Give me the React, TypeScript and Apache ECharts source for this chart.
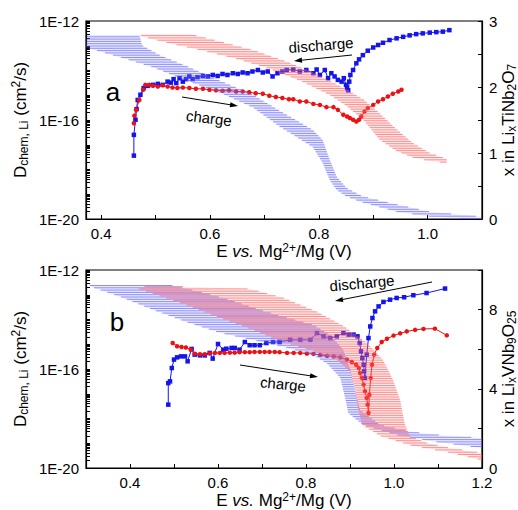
import React, { useEffect, useRef } from 'react';
import * as echarts from 'echarts';

// ---------- Panel a (Li_xTiNb2O7) ----------
// [E (V), log10 D]
const aDischarge: number[][] = [
  [0.460,-17.44],[0.460,-16.60],[0.463,-15.99],[0.465,-15.56],[0.467,-15.19],[0.472,-14.98],[0.478,-14.71],[0.486,-14.62],
  [0.495,-14.58],[0.504,-14.54],[0.513,-14.58],[0.522,-14.45],[0.528,-14.49],[0.533,-14.35],[0.538,-14.51],[0.544,-14.31],
  [0.550,-14.45],[0.556,-14.35],[0.562,-14.24],[0.568,-14.35],[0.577,-14.27],[0.587,-14.22],[0.596,-14.24],[0.605,-14.18],
  [0.614,-14.22],[0.623,-14.14],[0.632,-14.18],[0.642,-14.11],[0.651,-14.14],[0.660,-14.08],[0.669,-14.11],[0.678,-14.04],
  [0.688,-13.98],[0.697,-14.08],[0.706,-14.04],[0.715,-14.24],[0.724,-14.11],[0.733,-14.04],[0.741,-13.98],[0.753,-13.96],
  [0.765,-14.04],[0.777,-13.98],[0.790,-14.11],[0.796,-13.96],[0.802,-14.18],[0.811,-13.98],[0.817,-14.31],[0.823,-14.11],
  [0.829,-14.24],[0.835,-14.38],[0.842,-14.45],[0.846,-14.31],[0.850,-14.58],[0.852,-14.71],[0.854,-14.80],[0.856,-14.45],
  [0.858,-14.18],[0.863,-13.98],[0.869,-13.71],[0.874,-13.55],[0.881,-13.38],[0.890,-13.20],[0.900,-13.07],[0.909,-12.97],
  [0.918,-12.88],[0.930,-12.77],[0.943,-12.70],[0.955,-12.64],[0.967,-12.58],[0.979,-12.53],[0.991,-12.50],[1.004,-12.47],
  [1.016,-12.45],[1.028,-12.43],[1.040,-12.37]
];
const aCharge: number[][] = [
  [0.460,-16.13],[0.461,-15.83],[0.464,-15.59],[0.470,-15.19],[0.477,-14.78],[0.481,-14.58],[0.488,-14.58],[0.495,-14.62],
  [0.504,-14.65],[0.513,-14.60],[0.522,-14.65],[0.531,-14.69],[0.540,-14.71],[0.550,-14.69],[0.562,-14.71],[0.574,-14.74],
  [0.587,-14.74],[0.599,-14.78],[0.611,-14.80],[0.623,-14.82],[0.635,-14.80],[0.648,-14.85],[0.660,-14.85],[0.672,-14.88],
  [0.684,-14.92],[0.697,-14.94],[0.709,-15.02],[0.721,-15.07],[0.733,-15.11],[0.745,-15.16],[0.753,-15.16],[0.765,-15.25],
  [0.777,-15.25],[0.790,-15.35],[0.802,-15.39],[0.814,-15.48],[0.827,-15.48],[0.835,-15.59],[0.845,-15.79],[0.852,-15.86],
  [0.857,-15.92],[0.863,-15.99],[0.869,-16.06],[0.874,-15.99],[0.878,-15.86],[0.884,-15.66],[0.890,-15.52],[0.900,-15.39],
  [0.909,-15.25],[0.918,-15.16],[0.927,-15.05],[0.936,-14.94],[0.946,-14.85],[0.952,-14.78]
];
// bands: [E, x in LixTiNb2O7]
const aBlueUpper: number[][] = [
  [0.374,2.79],[0.470,2.79],[0.475,2.63],[0.508,2.48],[0.556,2.32],[0.617,2.10],[0.677,1.89],[0.728,1.64],[0.789,1.35],
  [0.807,1.20],[0.820,0.90],[0.833,0.64],[0.851,0.47],[0.881,0.34],[0.943,0.22],[1.004,0.11],[1.064,0.06],[1.099,0.035]
];
const aBlueLower: number[][] = [
  [0.372,2.60],[0.435,2.45],[0.495,2.30],[0.556,2.10],[0.617,1.92],[0.679,1.69],[0.728,1.40],[0.789,1.09],[0.807,0.85],
  [0.820,0.59],[0.833,0.44],[0.851,0.34],[0.881,0.25],[0.943,0.11],[1.004,0.04],[1.064,0.005],[1.099,0.0]
];
const aRedUpper: number[][] = [
  [0.473,2.80],[0.565,2.80],[0.618,2.69],[0.679,2.56],[0.739,2.39],[0.789,2.22],[0.850,1.97],[0.884,1.80],[0.912,1.60],
  [0.943,1.36],[0.973,1.15],[1.004,1.00],[1.035,0.91]
];
const aRedLower: number[][] = [
  [0.473,2.77],[0.527,2.66],[0.582,2.56],[0.648,2.43],[0.708,2.28],[0.765,2.10],[0.820,1.88],[0.850,1.72],[0.884,1.48],
  [0.912,1.20],[0.943,1.03],[0.973,0.93],[1.004,0.88],[1.035,0.85]
];

// ---------- Panel b (Li_xVNb9O25) ----------
const bDischarge: number[][] = [
  [0.487,-17.44],[0.487,-16.57],[0.491,-16.50],[0.495,-15.96],[0.500,-15.62],[0.507,-15.53],[0.516,-15.49],[0.525,-15.49],
  [0.531,-15.69],[0.540,-15.19],[0.547,-15.42],[0.559,-15.45],[0.570,-15.45],[0.581,-15.35],[0.588,-15.58],[0.600,-14.99],
  [0.612,-15.22],[0.619,-15.18],[0.631,-15.15],[0.638,-15.15],[0.649,-15.22],[0.661,-14.91],[0.672,-15.04],[0.683,-15.04],
  [0.695,-15.04],[0.710,-14.95],[0.725,-14.91],[0.740,-14.91],[0.764,-14.82],[0.787,-14.82],[0.810,-14.82],[0.825,-14.55],
  [0.840,-14.68],[0.855,-14.75],[0.870,-14.68],[0.885,-14.55],[0.897,-14.61],[0.908,-14.61],[0.917,-14.68],[0.922,-14.95],
  [0.925,-15.29],[0.928,-15.56],[0.931,-15.83],[0.932,-16.09],[0.934,-16.36],[0.938,-15.42],[0.942,-14.75],[0.946,-14.28],
  [0.951,-13.94],[0.957,-13.67],[0.965,-13.47],[0.976,-13.29],[0.991,-13.20],[1.006,-13.13],[1.023,-13.10],[1.044,-13.02],
  [1.074,-12.93],[1.116,-12.75]
];
const bCharge: number[][] = [
  [0.497,-14.95],[0.507,-15.08],[0.517,-15.11],[0.527,-15.13],[0.538,-15.22],[0.547,-15.38],[0.559,-15.40],[0.570,-15.40],
  [0.581,-15.37],[0.593,-15.35],[0.604,-15.35],[0.615,-15.35],[0.627,-15.34],[0.638,-15.34],[0.649,-15.32],[0.661,-15.32],
  [0.672,-15.32],[0.683,-15.31],[0.695,-15.31],[0.706,-15.31],[0.717,-15.31],[0.729,-15.31],[0.740,-15.32],[0.757,-15.35],
  [0.772,-15.35],[0.787,-15.35],[0.802,-15.38],[0.817,-15.39],[0.832,-15.43],[0.848,-15.47],[0.863,-15.49],[0.878,-15.53],
  [0.893,-15.62],[0.904,-15.72],[0.914,-15.83],[0.920,-15.96],[0.923,-16.16],[0.927,-16.36],[0.931,-16.63],[0.934,-16.90],
  [0.938,-17.17],[0.940,-17.44],[0.942,-17.78],[0.944,-17.04],[0.947,-16.36],[0.950,-15.83],[0.955,-15.42],[0.962,-15.15],
  [0.972,-14.91],[0.984,-14.78],[0.999,-14.65],[1.014,-14.56],[1.029,-14.48],[1.048,-14.42],[1.067,-14.38],[1.093,-14.37],
  [1.120,-14.64]
];
// bands: [E, x in LixVNb9O25]
const bBlueUpper: number[][] = [
  [0.311,9.24],[0.492,9.24],[0.560,8.89],[0.628,8.48],[0.696,7.98],[0.742,7.68],[0.817,7.22],[0.855,6.72],[0.885,5.96],
  [0.901,4.95],[0.914,3.69],[0.923,2.93],[0.969,2.17],[1.043,1.82],[1.120,1.62],[1.200,1.52]
];
const bBlueLower: number[][] = [
  [0.306,9.19],[0.379,8.64],[0.454,7.98],[0.529,7.37],[0.606,6.82],[0.681,6.46],[0.742,6.16],[0.817,5.71],[0.849,5.25],
  [0.878,4.55],[0.890,3.43],[0.896,2.78],[0.930,2.17],[1.007,1.67],[1.082,1.36],[1.200,1.01]
];
const bRedUpper: number[][] = [
  [0.447,9.22],[0.674,9.04],[0.749,8.59],[0.826,7.88],[0.885,7.17],[0.939,6.31],[0.975,5.45],[0.998,4.44],[1.014,3.43],
  [1.025,2.17],[1.036,1.62],[1.075,1.26],[1.127,1.01],[1.200,0.76]
];
const bRedLower: number[][] = [
  [0.415,9.09],[0.529,8.23],[0.606,7.58],[0.681,6.97],[0.742,6.41],[0.817,5.91],[0.871,5.45],[0.901,4.85],[0.912,3.94],
  [0.919,2.93],[0.928,2.17],[0.969,1.62],[1.043,1.11],[1.120,0.81],[1.200,0.40]
];

// ---------- axis ticks / labels ----------
const aXLabels = [0.4, 0.6, 0.8, 1.0];
const aXTicks = [0.4, 0.5, 0.6, 0.7, 0.8, 0.9, 1.0];
const bXLabels = [0.4, 0.6, 0.8, 1.0, 1.2];
const dLabels = [1e-20, 1e-16, 1e-12];
const aRightTicks = [0, 0.5, 1, 1.5, 2, 2.5, 3];
const bRightLabels = [0, 4, 8];

const FONT = 'Arial, "Liberation Sans", Helvetica, sans-serif';

const logTicks: number[] = [];
for (let k = -20; k < -12; k++) {
  for (let m = 1; m <= 9; m++) logTicks.push(m * Math.pow(10, k));
}
logTicks.push(1e-12);

const toD = (arr: number[][]) => arr.map(p => [p[0], Math.pow(10, p[1])]);

function band(upper: number[][], lower: number[][], xi: number, yi: number, stroke: string, fill: string, offset: number) {
  const poly = upper.concat(lower.slice().reverse());
  return {
    type: 'custom',
    xAxisIndex: xi,
    yAxisIndex: yi,
    z: 5,
    silent: true,
    clip: true,
    data: poly,
    encode: { x: 0, y: 1 },
    renderItem: (params: any, api: any) => {
      if (params.dataIndex !== 0) return null;
      const pts = poly.map(p => api.coord(p));
      const children: any[] = [
        { type: 'polygon', shape: { points: pts }, style: { fill, stroke: 'none' } }
      ];
      let minY = Infinity, maxY = -Infinity;
      pts.forEach((p: number[]) => { minY = Math.min(minY, p[1]); maxY = Math.max(maxY, p[1]); });
      for (let y = Math.floor(minY) + offset; y <= maxY; y += 2.3) {
        const xs: number[] = [];
        for (let i = 0; i < pts.length; i++) {
          const a = pts[i], b = pts[(i + 1) % pts.length];
          if ((a[1] <= y && b[1] > y) || (b[1] <= y && a[1] > y)) {
            xs.push(a[0] + (y - a[1]) * (b[0] - a[0]) / (b[1] - a[1]));
          }
        }
        xs.sort((p, q) => p - q);
        for (let k = 0; k + 1 < xs.length; k += 2) {
          children.push({ type: 'line', shape: { x1: xs[k], y1: y, x2: xs[k + 1], y2: y }, style: { stroke, lineWidth: 1 } });
        }
      }
      return { type: 'group', children };
    }
  };
}

function arrow(x1: number, y1: number, x2: number, y2: number) {
  const dx = x2 - x1, dy = y2 - y1, L = Math.hypot(dx, dy);
  const ux = dx / L, uy = dy / L, nx = -uy, ny = ux;
  const hl = 8, hw = 2.6;
  return [
    { type: 'line', shape: { x1, y1, x2: x2 - ux * 4, y2: y2 - uy * 4 }, style: { stroke: '#000', lineWidth: 1 } },
    { type: 'polygon', shape: { points: [[x2, y2], [x2 - ux * hl + nx * hw, y2 - uy * hl + ny * hw], [x2 - ux * hl - nx * hw, y2 - uy * hl - ny * hw]] }, style: { fill: '#000' } }
  ];
}

function label(text: string, x: number, y: number, rot: number, size: number) {
  return { type: 'text', x, y, rotation: rot, style: { text, fontSize: size, fontFamily: FONT, fill: '#000', align: 'center', verticalAlign: 'middle' } };
}

const richStyles = {
  sub: { fontSize: 12, lineHeight: 11, verticalAlign: 'bottom', fontFamily: FONT, color: '#000' },
  sup: { fontSize: 12, lineHeight: 11, verticalAlign: 'top', fontFamily: FONT, color: '#000' },
  it: { fontSize: 17, fontStyle: 'italic', fontFamily: FONT, color: '#000' }
};
const nameStyle = { color: '#000', fontSize: 17, fontFamily: FONT, lineHeight: 20, rich: richStyles };

const axisLine = { show: true, lineStyle: { color: '#000', width: 1.2 } };
const tickBase = { show: true, inside: true, length: 4, lineStyle: { color: '#000', width: 1 } };
const labelBase = { color: '#000', fontSize: 15, fontFamily: FONT };

function xAxis(gi: number, min: number, max: number, labels: number[], ticks: number[] | null, interval?: number) {
  return {
    gridIndex: gi, type: 'value', min, max, interval,
    axisLine, splitLine: { show: false },
    axisTick: ticks ? { ...tickBase, customValues: ticks } : tickBase,
    axisLabel: { ...labelBase, margin: 7, customValues: labels, formatter: (v: number) => v.toFixed(1) },
    name: 'E {it|vs.} Mg{sup|2+}/Mg (V)', nameLocation: 'middle', nameGap: 18, nameTextStyle: nameStyle
  };
}
function logAxis(gi: number) {
  return {
    gridIndex: gi, type: 'log', logBase: 10, min: 1e-20, max: 1e-12, position: 'left',
    axisLine, splitLine: { show: false },
    axisTick: { ...tickBase, customValues: logTicks },
    axisLabel: { ...labelBase, margin: 7, customValues: dLabels, formatter: (v: number) => '1E' + Math.round(Math.log10(v)) },
    name: 'D{sub|chem, Li} (cm{sup|2}/s)', nameLocation: 'middle', nameRotate: 90, nameGap: 56, nameMoveOverlap: false, nameTextStyle: nameStyle
  };
}

export default function App() {
  const ref = useRef<HTMLDivElement>(null);
  useEffect(() => {
    if (!ref.current) return;
    const chart = echarts.init(ref.current, null, { renderer: 'svg' });
    const blue = '#1414ee';
    const red = '#ee1111';
    const blueStroke = 'rgba(85,85,255,0.62)';
    const blueFill = 'rgba(150,150,255,0.2)';
    const redStroke = 'rgba(255,85,85,0.62)';
    const redFill = 'rgba(255,150,150,0.2)';
    const option: any = {
      animation: false,
      backgroundColor: '#fff',
      grid: [
        { left: 86, top: 21, width: 396, height: 198, show: true, borderColor: '#000', borderWidth: 1.2, backgroundColor: 'transparent', outerBoundsMode: 'none' },
        { left: 86, top: 270, width: 396, height: 198, show: true, borderColor: '#000', borderWidth: 1.2, backgroundColor: 'transparent', outerBoundsMode: 'none' }
      ],
      xAxis: [
        xAxis(0, 0.372, 1.1, aXLabels, aXTicks),
        xAxis(1, 0.3, 1.2, bXLabels, null, 0.1)
      ],
      yAxis: [
        logAxis(0),
        {
          gridIndex: 0, type: 'value', min: 0, max: 3, interval: 1, position: 'right',
          axisLine, splitLine: { show: false },
          axisTick: { ...tickBase, customValues: aRightTicks },
          axisLabel: { ...labelBase, margin: 7 },
          name: 'x in Li{sub|x}TiNb{sub|2}O{sub|7}', nameLocation: 'middle', nameRotate: 90, nameGap: 16, nameMoveOverlap: false, nameTextStyle: nameStyle
        },
        logAxis(1),
        {
          gridIndex: 1, type: 'value', min: 0, max: 10, interval: 2, position: 'right',
          axisLine, splitLine: { show: false },
          axisTick: tickBase,
          axisLabel: { ...labelBase, margin: 7, customValues: bRightLabels },
          name: 'x in Li{sub|x}VNb{sub|9}O{sub|25}', nameLocation: 'middle', nameRotate: 90, nameGap: 16, nameMoveOverlap: false, nameTextStyle: nameStyle
        }
      ],
      series: [
        { type: 'line', xAxisIndex: 0, yAxisIndex: 0, data: toD(aDischarge), symbol: 'rect', symbolSize: 4.5, color: blue, lineStyle: { width: 1, color: blue }, z: 3 },
        { type: 'line', xAxisIndex: 0, yAxisIndex: 0, data: toD(aCharge), symbol: 'circle', symbolSize: 4.5, color: red, lineStyle: { width: 1, color: red }, z: 3 },
        band(aBlueUpper, aBlueLower, 0, 1, blueStroke, blueFill, 0.5),
        band(aRedUpper, aRedLower, 0, 1, redStroke, redFill, 1.6),
        { type: 'line', xAxisIndex: 1, yAxisIndex: 2, data: toD(bDischarge), symbol: 'rect', symbolSize: 4.5, color: blue, lineStyle: { width: 1, color: blue }, z: 3 },
        { type: 'line', xAxisIndex: 1, yAxisIndex: 2, data: toD(bCharge), symbol: 'circle', symbolSize: 4.5, color: red, lineStyle: { width: 1, color: red }, z: 3 },
        band(bBlueUpper, bBlueLower, 1, 3, blueStroke, blueFill, 0.5),
        band(bRedUpper, bRedLower, 1, 3, redStroke, redFill, 1.6)
      ],
      graphic: [
        label('a', 113, 92, 0, 26),
        label('b', 117, 322, 0, 26),
        label('discharge', 321, 45, 0.08, 15),
        label('charge', 209, 118, -0.12, 15),
        label('discharge', 362, 283, 0.09, 15),
        label('charge', 283, 384, -0.1, 15),
        ...arrow(352, 55, 294, 61),
        ...arrow(182, 97, 238, 106),
        ...arrow(432, 282, 335, 301),
        ...arrow(240, 365, 318, 377)
      ]
    };
    chart.setOption(option);
    return () => chart.dispose();
  }, []);
  return <div ref={ref} style={{ position: 'fixed', left: 0, top: 0, width: 518, height: 510 }} />;
}
